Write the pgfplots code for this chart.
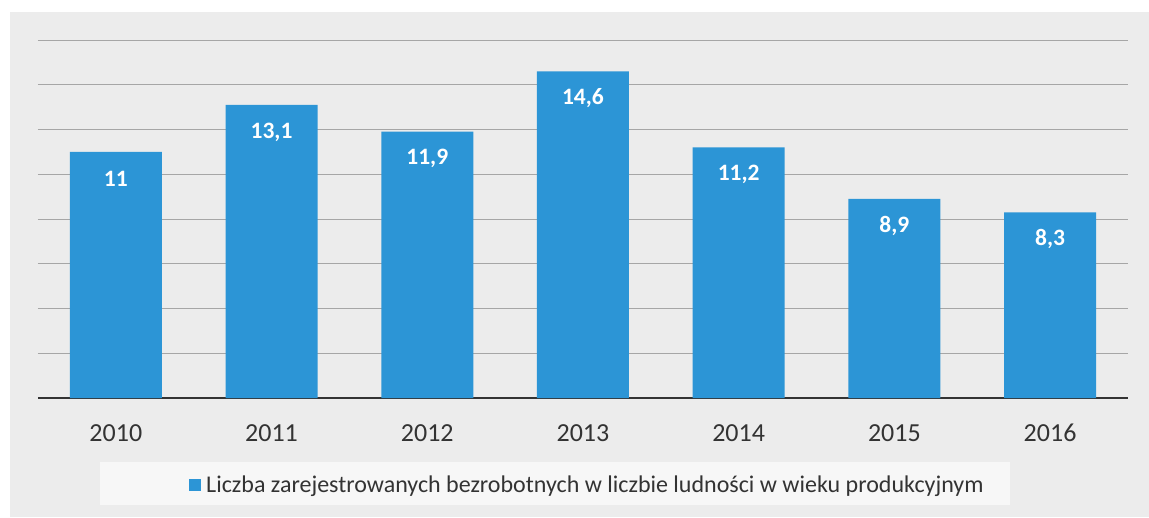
\documentclass[border=0pt]{standalone}
\usepackage{fontspec}
\setmainfont{Carlito}
\usepackage{pgfplots}
\pgfplotsset{compat=1.18}
\definecolor{barblue}{HTML}{2C95D6}
\definecolor{txtgray}{HTML}{333333}
\definecolor{paper}{HTML}{ECECEC}

\begin{document}
\begin{tikzpicture}
  % page and scanned chart frame
  \fill[white] (-38pt,-119pt) rectangle (1111pt,398pt);
  \fill[paper] (-28pt,-119pt) rectangle (1111pt,386pt);
  % legend box
  \fill[white!60!paper] (62pt,-64pt) rectangle (972pt,-107pt);
  \begin{axis}[
    at={(0,0)}, anchor=south west,
    scale only axis,
    width=1090pt, height=358pt,
    ybar, bar width=92pt,
    xmin=-0.5, xmax=6.5,
    ymin=0, ymax=16,
    xtick=data,
    xticklabels={2010,2011,2012,2013,2014,2015,2016},
    ytick={2,4,...,16},
    yticklabels={},
    ymajorgrids,
    grid style={gray!70, line width=0.9pt},
    axis x line*=bottom,
    y axis line style={draw=none},
    x axis line style={-, line width=2pt, color=txtgray},
    major tick length=0pt,
    xticklabel style={font=\fontsize{26}{28}\selectfont, text=txtgray, anchor=base, yshift=-43pt},
    nodes near coords,
    nodes near coords style={font=\bfseries\fontsize{23.5}{25}\selectfont, text=white, anchor=center, yshift=-27pt},
    /pgf/number format/use comma,
    /pgf/number format/assume math mode=true,
    legend style={at={(axis description cs:0,0)}, anchor=west, xshift=148pt, yshift=-87pt,
      draw=none, fill=none, font=\fontsize{24}{26}\selectfont, text=txtgray},
    legend image code/.code={\fill[barblue] (0pt,-6pt) rectangle (12pt,6pt);},
  ]
    \addplot[fill=barblue, draw=none] coordinates {
      (0,11) (1,13.1) (2,11.9) (3,14.6) (4,11.2) (5,8.9) (6,8.3)};
    \addlegendentry{\hspace{3pt}Liczba zarejestrowanych bezrobotnych w liczbie ludności w wieku produkcyjnym}
  \end{axis}
\end{tikzpicture}
\end{document}
